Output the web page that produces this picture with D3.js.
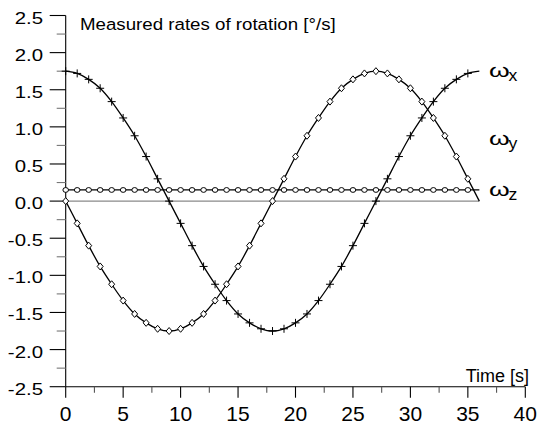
<!DOCTYPE html>
<html>
<head>
<meta charset="utf-8">
<script src="https://cdn.jsdelivr.net/npm/d3@7"></script>
<style>
  body { margin: 0; background: #fff; }
  text { font-family: "Liberation Sans", Arial, sans-serif; fill: #000; }
</style>
</head>
<body>
<div class="chart"></div>
<script>
// time in seconds, one sample per second
var time = [0,1,2,3,4,5,6,7,8,9,10,11,12,13,14,15,16,17,18,19,20,21,22,23,24,25,26,27,28,29,30,31,32,33,34,35,36];

// measured rates of rotation [deg/s]
var omegaX = [1.75,1.72,1.64,1.52,1.34,1.12,0.88,0.60,0.30,0.00,-0.30,-0.60,-0.88,-1.12,-1.34,-1.52,-1.64,-1.72,-1.75,
              -1.72,-1.64,-1.52,-1.34,-1.12,-0.88,-0.60,-0.30,0.00,0.30,0.60,0.88,1.12,1.34,1.52,1.64,1.72,1.75];
var omegaY = [0.00,-0.30,-0.60,-0.88,-1.12,-1.34,-1.52,-1.64,-1.72,-1.75,-1.72,-1.64,-1.52,-1.34,-1.12,-0.88,-0.60,-0.30,0.00,
              0.30,0.60,0.88,1.12,1.34,1.52,1.64,1.72,1.75,1.72,1.64,1.52,1.34,1.12,0.88,0.60,0.30,0.00];
var omegaZ = [0.15,0.15,0.15,0.15,0.15,0.15,0.15,0.15,0.15,0.15,0.15,0.15,0.15,0.15,0.15,0.15,0.15,0.15,0.15,
              0.15,0.15,0.15,0.15,0.15,0.15,0.15,0.15,0.15,0.15,0.15,0.15,0.15,0.15,0.15,0.15,0.15,0.15];

var xTicks = [0,5,10,15,20,25,30,35,40];
var xMinor = [2.5,7.5,12.5,17.5,22.5,27.5,32.5,37.5];
var yTicks = [-2.5,-2.0,-1.5,-1.0,-0.5,0.0,0.5,1.0,1.5,2.0,2.5];
var yMinor = [-2.25,-1.75,-1.25,-0.75,-0.25,0.25,0.75,1.25,1.75,2.25];

var seriesNames = ["x", "y", "z"];
var seriesLabelY = [1.75, 0.85, 0.15];

var svgWidth = 538;
var svgHeight = 425;

var svg = d3.select(".chart")
  .append("svg")
  .attr("width", svgWidth)
  .attr("height", svgHeight);

var x = d3.scaleLinear().domain([0, 40]).range([65.7, 525.3]);
var y = d3.scaleLinear().domain([-2.5, 2.5]).range([386.7, 15.5]);

var x0 = x(0), y0 = y(-2.5);

// zero line
svg.append("line")
  .attr("x1", x(0)).attr("x2", x(36))
  .attr("y1", y(0)).attr("y2", y(0))
  .attr("stroke", "#8a8a8a").attr("stroke-width", 1.2);

// axes drawn by hand to get the outward ticks
var axes = svg.append("g").attr("stroke", "#000").attr("stroke-width", 1.1);
axes.append("line").attr("x1", x0).attr("x2", x0).attr("y1", y(2.5)).attr("y2", y0);
axes.append("line").attr("x1", x0).attr("x2", x(40)).attr("y1", y0).attr("y2", y0);

axes.selectAll(".ymaj").data(yTicks).enter().append("line")
  .attr("x1", x0 - 16).attr("x2", x0)
  .attr("y1", d => y(d)).attr("y2", d => y(d));
axes.selectAll(".ymin").data(yMinor).enter().append("line")
  .attr("x1", x0 - 9).attr("x2", x0)
  .attr("y1", d => y(d)).attr("y2", d => y(d))
  .attr("stroke", "#777");
axes.selectAll(".xmaj").data(xTicks).enter().append("line")
  .attr("x1", d => x(d)).attr("x2", d => x(d))
  .attr("y1", y0).attr("y2", y0 + 11);
axes.selectAll(".xmin").data(xMinor).enter().append("line")
  .attr("x1", d => x(d)).attr("x2", d => x(d))
  .attr("y1", y0).attr("y2", y0 + 6)
  .attr("stroke", "#555");

// tick labels (plain hyphen for the minus sign)
svg.selectAll(".ylab").data(yTicks).enter().append("text")
  .attr("transform", d => "translate(43," + (y(d) + 8) + ") scale(1.2,1)")
  .attr("text-anchor", "end")
  .attr("font-size", "17px")
  .text(d => d.toFixed(1));

svg.selectAll(".xlab").data(xTicks).enter().append("text")
  .attr("x", d => x(d))
  .attr("y", 421)
  .attr("text-anchor", "middle")
  .attr("font-size", "21px")
  .text(d => d);

// titles
svg.append("text")
  .attr("transform", "translate(80,30) scale(1.1,1)")
  .attr("font-size", "17px")
  .text("Measured rates of rotation [°/s]");

svg.append("text")
  .attr("x", 529).attr("y", 382)
  .attr("text-anchor", "end")
  .attr("font-size", "18px")
  .text("Time [s]");

// curves
var series = [omegaX, omegaY, omegaZ];
var line = d3.line()
  .x((d, i) => x(time[i]))
  .y(d => y(d))
  .curve(d3.curveCatmullRom);

svg.selectAll(".curve").data(series).enter().append("path")
  .attr("d", d => line(d))
  .attr("fill", "none")
  .attr("stroke", "#000")
  .attr("stroke-width", 1.3);

// markers, one per second up to 35 s
var marks = svg.append("g").attr("fill", "#fff").attr("stroke", "#000").attr("stroke-width", 1);

marks.selectAll(".plus").data(omegaX.slice(0, 36)).enter().append("path")
  .attr("transform", (d, i) => "translate(" + x(time[i]) + "," + y(d) + ")")
  .attr("d", "M-4,0H4M0,-4V4");

marks.selectAll(".diamond").data(omegaY.slice(0, 36)).enter().append("path")
  .attr("transform", (d, i) => "translate(" + x(time[i]) + "," + y(d) + ")")
  .attr("d", "M0,-3.5L3,0L0,3.5L-3,0Z");

marks.selectAll(".circle").data(omegaZ.slice(0, 36)).enter().append("ellipse")
  .attr("cx", (d, i) => x(time[i]))
  .attr("cy", d => y(d))
  .attr("rx", 2.8).attr("ry", 2.4);

// series labels at the right end: omega plus a subscript
var lab = svg.selectAll(".slab").data(seriesNames).enter().append("g")
  .attr("transform", (d, i) => "translate(489," + (y(seriesLabelY[i]) + [6, 7, 6][i]) + ")");
lab.append("text")
  .attr("transform", "scale(1.4,1)")
  .attr("font-size", "19px")
  .text("ω");
lab.append("text")
  .attr("transform", "translate(19.5,4) scale(1.1,1)")
  .attr("font-size", "16px")
  .text(d => d);
</script>
</body>
</html>
